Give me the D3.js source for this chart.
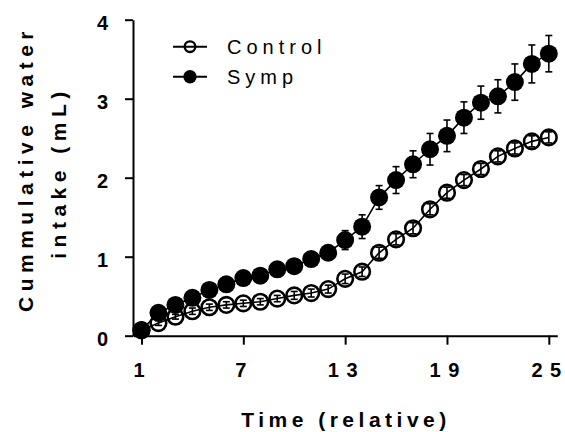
<!DOCTYPE html>
<html>
<head>
<meta charset="utf-8">
<script src="https://cdn.jsdelivr.net/npm/d3@7"></script>
<style>
  body { margin: 0; background: white; }
  text { font-family: "Liberation Sans", Arial, sans-serif; }
</style>
</head>
<body>
<div id="canvas"></div>
<script>
"use strict"

// DATA
let time = [1, 2, 3, 4, 5, 6, 7, 8, 9, 10, 11, 12, 13, 14, 15, 16, 17, 18, 19, 20, 21, 22, 23, 24, 25]
let control = [0.07, 0.16, 0.24, 0.31, 0.36, 0.39, 0.41, 0.43, 0.47, 0.51, 0.54, 0.59, 0.72, 0.81, 1.05, 1.22, 1.36, 1.60, 1.81, 1.97, 2.11, 2.27, 2.37, 2.46, 2.51]
let controlErr = [0.02, 0.03, 0.03, 0.04, 0.04, 0.04, 0.04, 0.04, 0.04, 0.05, 0.05, 0.05, 0.06, 0.06, 0.07, 0.07, 0.07, 0.07, 0.07, 0.07, 0.07, 0.07, 0.07, 0.07, 0.07]
let symp = [0.07, 0.29, 0.39, 0.48, 0.58, 0.65, 0.73, 0.76, 0.84, 0.88, 0.97, 1.05, 1.21, 1.38, 1.75, 1.97, 2.17, 2.36, 2.53, 2.76, 2.95, 3.03, 3.21, 3.44, 3.57]
let sympErr = [0.03, 0.05, 0.05, 0.06, 0.06, 0.07, 0.07, 0.07, 0.08, 0.08, 0.09, 0.09, 0.12, 0.15, 0.15, 0.17, 0.17, 0.20, 0.20, 0.20, 0.21, 0.21, 0.23, 0.24, 0.23]

let xTicks = [1, 7, 13, 19, 25]
let yTicks = [0, 1, 2, 3, 4]
let seriesNames = ["Control", "Symp"]

/* drawing config */
let svgWidth = 565;
let svgHeight = 432;

let svg = d3.select("#canvas")
  .append("svg")
  .attr("width", svgWidth)
  .attr("height", svgHeight);

let xScale = d3.scaleLinear()
  .domain([0.5, 25.5])
  .range([133, 557.3]);

let yScale = d3.scaleLinear()
  .domain([0, 4])
  .range([335.7, 19.7]);

// AXES
let yAxis = svg.append("g")
  .attr("transform", "translate(133,0)")
  .call(d3.axisLeft(yScale).tickValues(yTicks).tickSize(8).tickSizeOuter(0).tickFormat(d3.format("d")));

let xAxis = svg.append("g")
  .attr("transform", "translate(0,335.7)")
  .call(d3.axisBottom(xScale).tickValues(xTicks).tickSize(9).tickSizeOuter(0).tickFormat(""));

svg.selectAll(".domain, .tick line")
  .attr("stroke", "black")
  .attr("stroke-width", 2);

yAxis.selectAll(".tick text")
  .attr("x", -25)
  .attr("dy", "0.48em")
  .style("font-size", "20px")
  .style("font-weight", "bold")
  .attr("fill", "black");

// x tick labels: spaced digits, no trailing spacing after the last one
for (let i = 0; i < xTicks.length; i++) {
  let s = String(xTicks[i])
  let t = svg.append("text")
    .attr("x", xScale(xTicks[i]))
    .attr("y", 376.5)
    .attr("dx", -2.5)
    .style("text-anchor", "middle")
    .style("font-size", "20px")
    .style("font-weight", "bold")
    .attr("fill", "black")
  t.append("tspan")
    .style("letter-spacing", "7.5px")
    .text(s.slice(0, -1))
  t.append("tspan")
    .text(s.slice(-1))
}

// DATA DRAWING
let line = d3.line()
  .x(function (d, i) { return xScale(time[i]) })
  .y(function (d) { return yScale(d) });

function errorBars(values, errs) {
  let g = svg.append("g")
  for (let i = 0; i < values.length; i++) {
    let x = xScale(time[i])
    let y1 = yScale(values[i] + errs[i])
    let y2 = yScale(values[i] - errs[i])
    g.append("line").attr("x1", x).attr("x2", x).attr("y1", y1).attr("y2", y2)
    g.append("line").attr("x1", x - 3.5).attr("x2", x + 3.5).attr("y1", y1).attr("y2", y1)
    g.append("line").attr("x1", x - 3.5).attr("x2", x + 3.5).attr("y1", y2).attr("y2", y2)
  }
  g.selectAll("line").attr("stroke", "black").attr("stroke-width", 1.6)
}

// control: open circles
svg.append("g")
  .selectAll("circle")
  .data(control)
  .join("circle")
  .attr("cx", function (d, i) { return xScale(time[i]) })
  .attr("cy", function (d) { return yScale(d) })
  .attr("r", 7.8)
  .attr("fill", "white")
  .attr("stroke", "black")
  .attr("stroke-width", 2.6);

svg.append("path")
  .datum(control)
  .attr("d", line)
  .attr("fill", "none")
  .attr("stroke", "black")
  .attr("stroke-width", 1.6);

errorBars(control, controlErr)

// symp: filled circles
svg.append("path")
  .datum(symp)
  .attr("d", line)
  .attr("fill", "none")
  .attr("stroke", "black")
  .attr("stroke-width", 1.6);

errorBars(symp, sympErr)

svg.append("g")
  .selectAll("circle")
  .data(symp)
  .join("circle")
  .attr("cx", function (d, i) { return xScale(time[i]) })
  .attr("cy", function (d) { return yScale(d) })
  .attr("r", 9)
  .attr("fill", "black");

// LEGEND
let legendY = [46.7, 76.7]
for (let i = 0; i < seriesNames.length; i++) {
  svg.append("line")
    .attr("x1", 173)
    .attr("x2", 207)
    .attr("y1", legendY[i])
    .attr("y2", legendY[i])
    .attr("stroke", "black")
    .attr("stroke-width", 2);

  if (i == 0) {
    svg.append("circle")
      .attr("cx", 190).attr("cy", legendY[i]).attr("r", 5.3)
      .attr("fill", "none").attr("stroke", "black").attr("stroke-width", 2.4);
  } else {
    svg.append("circle")
      .attr("cx", 190).attr("cy", legendY[i]).attr("r", 6.7)
      .attr("fill", "black");
  }

  svg.append("text")
    .text(seriesNames[i])
    .attr("x", 227)
    .attr("y", legendY[i] + 7.4)
    .style("font-size", "20px")
    .style("letter-spacing", "5px")
    .attr("fill", "black");
}

// AXIS LABELS
svg.append("text")
  .attr("x", 346)
  .attr("y", 426.5)
  .style("text-anchor", "middle")
  .style("font-size", "21px")
  .style("font-weight", "bold")
  .style("letter-spacing", "4.5px")
  .text("Time (relative)");

svg.append("text")
  .attr("transform", "translate(33.3,169) rotate(-90)")
  .style("text-anchor", "middle")
  .style("font-size", "21px")
  .style("font-weight", "bold")
  .style("letter-spacing", "5.5px")
  .text("Cummulative water");

svg.append("text")
  .attr("transform", "translate(65.5,172.5) rotate(-90)")
  .style("text-anchor", "middle")
  .style("font-size", "21px")
  .style("font-weight", "bold")
  .style("letter-spacing", "5.5px")
  .text("intake (mL)");
</script>
</body>
</html>
